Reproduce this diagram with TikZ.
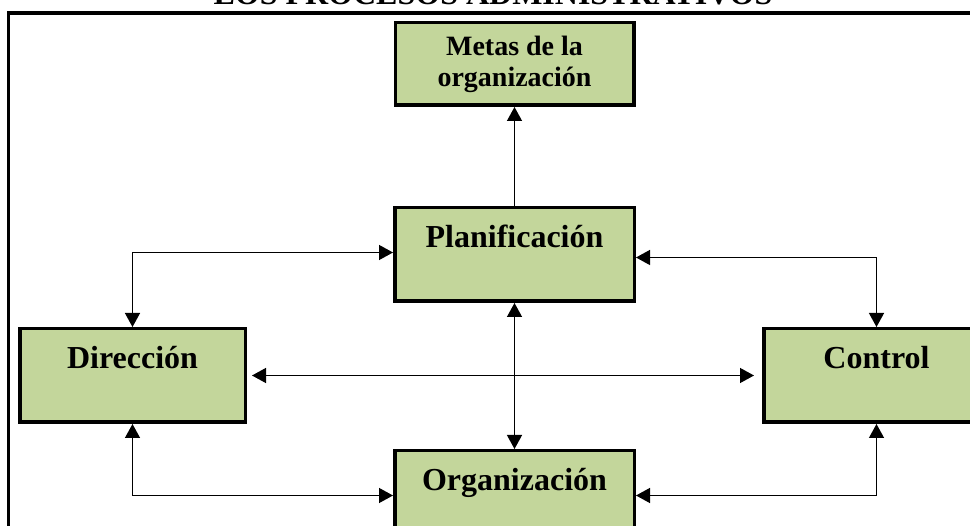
\documentclass[tikz,border=0pt]{standalone}
\usepackage{fontspec}
\setmainfont{Liberation Serif}
\usetikzlibrary{arrows.meta,positioning}
\definecolor{boxgreen}{RGB}{195,214,155}

\begin{document}
\begin{tikzpicture}[
  x=1pt,y=1pt,
  node distance=24pt and 146pt,
  >={Triangle[length=14pt,width=15pt]},
  stage/.style={draw,line width=3.5pt,fill=boxgreen,inner xsep=0pt,inner ysep=0pt,
    minimum width=239.5pt,text height=40pt,text depth=53.5pt,
    font=\bfseries\fontsize{32}{38}\selectfont},
  goal/.style={draw,line width=3.5pt,fill=boxgreen,minimum width=238.5pt,minimum height=82.5pt,
    align=center,font=\bfseries\fontsize{28}{31}\selectfont},
  link/.style={line width=1.3pt}
]
  \useasboundingbox (0,0) rectangle (970,-526);
  % outer frame and title
  \draw[line width=3.5pt] (8.5,-600) rectangle (1000,-13);
  \node[anchor=base,font=\bfseries\fontsize{32}{38}\selectfont] (title) at (493,-5) {LOS PROCESOS ADMINISTRATIVOS};

  \node[stage] (plan) at (514.5,-254.5) {Planificación};
  \node[goal,above=99pt of plan] (metas) {Metas de la\\organización};
  \node[stage,minimum width=225.5pt,below left=24pt and 146pt of plan] (dir) {Dirección};
  \node[stage,minimum width=225.5pt,below right=24pt and 126pt of plan] (ctrl) {Control};
  \node[stage,below=146pt of plan] (org) {Organización};

  \draw[link,->] (plan.north) -- (metas.south);
  \draw[link,<->] (dir.north) |- ([yshift=2pt]plan.west);
  \draw[link,<->] ([yshift=-3pt]plan.east) -| (ctrl.north);
  \draw[link,<->,shorten <=5pt,shorten >=8pt] (dir.east) -- (ctrl.west);
  \draw[link,<->] (plan.south) -- (org.north);
  \draw[link,<->] (dir.south) |- ([yshift=2pt]org.west);
  \draw[link,<->] (ctrl.south) |- ([yshift=2pt]org.east);
\end{tikzpicture}
\end{document}
